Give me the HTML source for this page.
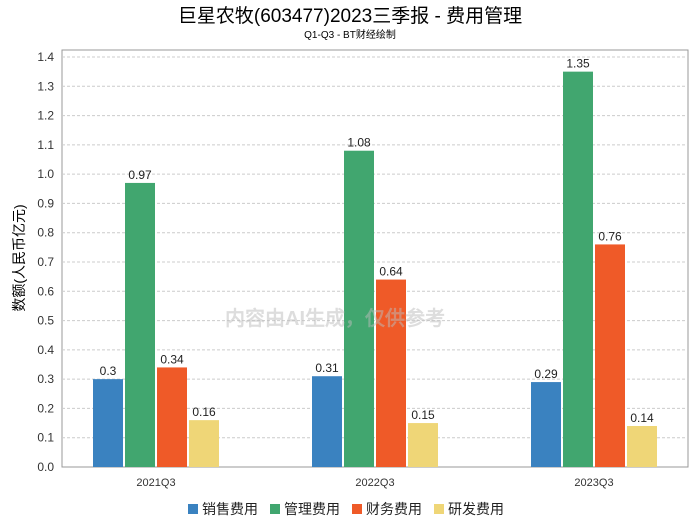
<!DOCTYPE html>
<html><head><meta charset="utf-8"><style>
body{margin:0;background:#fff;font-family:"Liberation Sans","WenQuanYi Zen Hei",sans-serif}
</style></head><body>
<svg id="c" width="700" height="524" xmlns="http://www.w3.org/2000/svg" font-family="Liberation Sans, WenQuanYi Zen Hei, sans-serif">
<text x="350" y="22" text-anchor="middle" font-size="19" fill="#000">巨星农牧(603477)2023三季报 - 费用管理</text>
<text x="350" y="38" text-anchor="middle" font-size="10" fill="#000">Q1-Q3 - BT财经绘制</text>
<rect x="62" y="50" width="626" height="417" fill="none" stroke="#999"/>
<g id="grid"></g><g id="bars"></g>
<text x="225" y="325" font-size="20" fill="#bbb" fill-opacity="0.5" font-weight="bold">内容由AI生成，仅供参考</text>
<text transform="translate(24,258) rotate(-90)" text-anchor="middle" font-size="14">数额(人民币亿元)</text>
<g id="legend"></g>
</svg>
<script>
const categories=["2021Q3","2022Q3","2023Q3"];
const seriesNames=["销售费用","管理费用","财务费用","研发费用"];
const colors=["#3a82c0","#41a66f","#ef5a28","#efd677"];
const sales=[0.3,0.31,0.29];
const admin=[0.97,1.08,1.35];
const finance=[0.34,0.64,0.76];
const rnd=[0.16,0.15,0.14];
const yTicks=[0,0.1,0.2,0.3,0.4,0.5,0.6,0.7,0.8,0.9,1.0,1.1,1.2,1.3,1.4];
const series=[sales,admin,finance,rnd];
const NS="http://www.w3.org/2000/svg";
const y=v=>467-v*(410/1.4);
const x=i=>156+i*219;
function mk(t,a,p){const e=document.createElementNS(NS,t);for(const k in a)e.setAttribute(k,a[k]);p.appendChild(e);return e;}
const g=document.getElementById('grid');
yTicks.forEach(v=>{
 if(v>0){const l=mk('line',{x1:62,x2:688,y1:y(v),y2:y(v),stroke:'#ccc','stroke-dasharray':'3,2'},g);
 
 }
 const t=mk('text',{x:54,y:y(v)+4,'text-anchor':'end','font-size':12,fill:'#333'},g);t.textContent=v.toFixed(1);
 
 
});
const b=document.getElementById('bars');
categories.forEach((c,i)=>{
 const t=mk('text',{x:x(i),y:486,'text-anchor':'middle','font-size':11,fill:'#333'},b);t.textContent=c;
 
 
 series.forEach((s,j)=>{
  const bx=x(i)-63+j*32;
  const r=mk('rect',{x:bx,y:y(s[i]),width:30,height:467-y(s[i]),fill:colors[j]},b);
  
  
  const lt=mk('text',{x:bx+15,y:y(s[i])-4,'text-anchor':'middle','font-size':12,fill:'#222'},b);lt.textContent=s[i];
  
  
 });
});
const lg=document.getElementById('legend');
seriesNames.forEach((n,j)=>{
 const lx=188+j*82;
 const r=mk('rect',{x:lx,y:504,width:10,height:10,fill:colors[j]},lg);
 
 
 const t=mk('text',{x:lx+14,y:514,'font-size':14,fill:'#222'},lg);t.textContent=n;
 
 
});
</script>
</body></html>
